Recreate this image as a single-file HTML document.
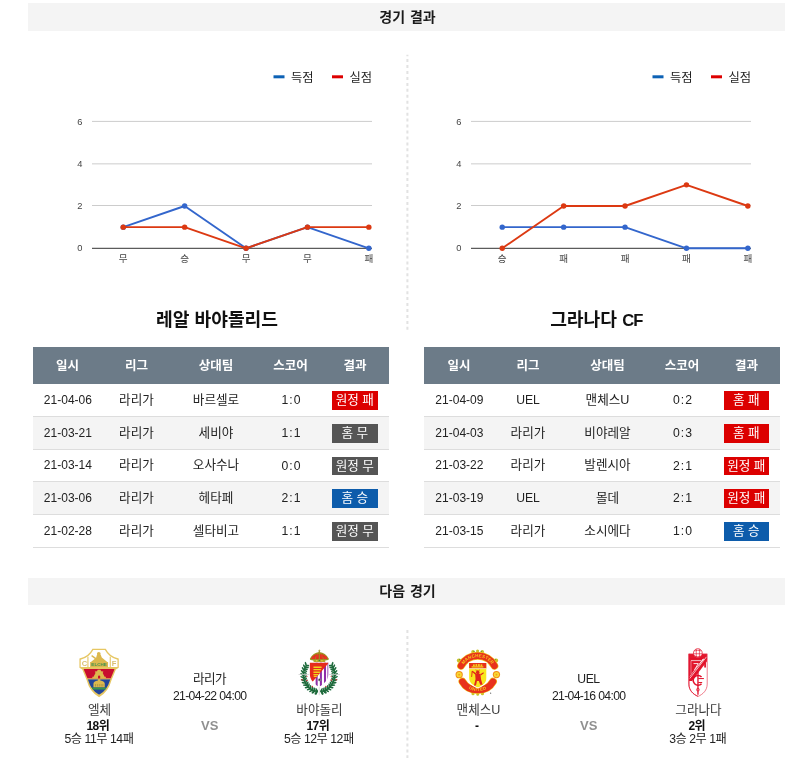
<!DOCTYPE html><html lang="ko"><head><meta charset="utf-8"><title>경기 결과</title><style>
*{margin:0;padding:0;box-sizing:border-box}
html,body{width:800px;height:763px;background:#fff;overflow:hidden}
body{position:relative;font-family:"Liberation Sans","Noto Sans CJK KR",sans-serif;color:#222;font-size:12.2px}
.k{font-size:12.6px}
.a{position:absolute}
.bar{position:absolute;left:28px;width:757px;background:#f4f4f4}
.c{position:absolute;white-space:nowrap;transform:translateX(-50%);line-height:16px;text-align:center}
.h{font-weight:bold;font-size:14px;color:#1a1a1a;word-spacing:1px}
.ttl{font-weight:bold;font-size:18.2px;color:#111;line-height:24px}
.th{position:absolute;background:#6c7b88;height:37px}
.thc{color:#fff;font-weight:bold;font-size:12.5px}
.row{position:absolute;border-bottom:1px solid #ddd}
.alt{background:#f4f4f4}
.bd{position:absolute;width:45.6px;height:18.7px;color:#fff;font-size:12.6px;line-height:19px;text-align:center;white-space:nowrap}
.red{background:#dc0000}.gry{background:#555}.blu{background:#0d5cab}
.sc{letter-spacing:1px}
.dash{position:absolute;width:1px;background:repeating-linear-gradient(to bottom,#ddd 0,#ddd 3px,transparent 3px,transparent 6px)}
.vs{font-weight:bold;color:#909090;font-size:13px}
.b{font-weight:bold}
.nm{color:#3a3a3a}
.rk{font-size:12px;letter-spacing:-0.6px;color:#111}
.rc{letter-spacing:-0.45px}
.dt{letter-spacing:-0.65px}
.uel{letter-spacing:-0.4px}
.lg{letter-spacing:-0.6px}
</style></head><body>
<div class="bar" style="top:3px;height:28px"></div>
<div class="c h" style="left:407.5px;top:9px">경기 결과</div>
<div class="bar" style="top:578px;height:27px"></div>
<div class="c h" style="left:407.5px;top:583px">다음 경기</div>
<svg class="a" style="left:400px;top:0" width="16" height="763" viewBox="400 0 16 763"><g stroke="#e2e2e2" stroke-width="2" fill="none"><line x1="407.4" y1="54.8" x2="407.4" y2="330.5" stroke-dasharray="3 2.95" stroke-dashoffset="1.65"/><line x1="407.4" y1="630" x2="407.4" y2="758" stroke-dasharray="3 2.97"/></g></svg>
<svg class="a" style="left:0px;top:55px" width="390" height="230" viewBox="0 55 390 230" font-family='Liberation Sans, Noto Sans CJK KR, sans-serif'><rect x="273.5" y="75.3" width="11" height="3" fill="#0d62b5"/><text x="291" y="81.5" font-size="12.3" fill="#222">득점</text><rect x="332" y="75.3" width="11" height="3" fill="#dd0000"/><text x="349.5" y="81.5" font-size="12.3" fill="#222">실점</text><rect x="92" y="120.9" width="280" height="1" fill="#ccc"/><rect x="92" y="163.35" width="280" height="1" fill="#ccc"/><rect x="92" y="205" width="280" height="1" fill="#ccc"/><text x="82.5" y="124.5" font-size="9.3" fill="#444" text-anchor="end">6</text><text x="82.5" y="166.8" font-size="9.3" fill="#444" text-anchor="end">4</text><text x="82.5" y="209.1" font-size="9.3" fill="#444" text-anchor="end">2</text><text x="82.5" y="251.4" font-size="9.3" fill="#444" text-anchor="end">0</text><rect x="92" y="247.8" width="280" height="1" fill="#333"/><polyline points="123.25,227.15 184.65,206 246.05,248.3 307.45,227.15 368.85,248.3" fill="none" stroke="#3366cc" stroke-width="1.9" stroke-linejoin="round"/><circle cx="123.25" cy="227.15" r="2.7" fill="#3366cc"/><circle cx="184.65" cy="206" r="2.7" fill="#3366cc"/><circle cx="246.05" cy="248.3" r="2.7" fill="#3366cc"/><circle cx="307.45" cy="227.15" r="2.7" fill="#3366cc"/><circle cx="368.85" cy="248.3" r="2.7" fill="#3366cc"/><polyline points="123.25,227.15 184.65,227.15 246.05,248.3 307.45,227.15 368.85,227.15" fill="none" stroke="#dc3912" stroke-width="1.9" stroke-linejoin="round"/><circle cx="123.25" cy="227.15" r="2.7" fill="#dc3912"/><circle cx="184.65" cy="227.15" r="2.7" fill="#dc3912"/><circle cx="246.05" cy="248.3" r="2.7" fill="#dc3912"/><circle cx="307.45" cy="227.15" r="2.7" fill="#dc3912"/><circle cx="368.85" cy="227.15" r="2.7" fill="#dc3912"/><text x="123.25" y="261.8" font-size="9.6" fill="#444" text-anchor="middle">무</text><text x="184.65" y="261.8" font-size="9.6" fill="#444" text-anchor="middle">승</text><text x="246.05" y="261.8" font-size="9.6" fill="#444" text-anchor="middle">무</text><text x="307.45" y="261.8" font-size="9.6" fill="#444" text-anchor="middle">무</text><text x="368.85" y="261.8" font-size="9.6" fill="#444" text-anchor="middle">패</text></svg>
<svg class="a" style="left:378.6px;top:55px" width="390" height="230" viewBox="0 55 390 230" font-family='Liberation Sans, Noto Sans CJK KR, sans-serif'><rect x="273.5" y="75.3" width="11" height="3" fill="#0d62b5"/><text x="291" y="81.5" font-size="12.3" fill="#222">득점</text><rect x="332" y="75.3" width="11" height="3" fill="#dd0000"/><text x="349.5" y="81.5" font-size="12.3" fill="#222">실점</text><rect x="92" y="120.9" width="280" height="1" fill="#ccc"/><rect x="92" y="163.35" width="280" height="1" fill="#ccc"/><rect x="92" y="205" width="280" height="1" fill="#ccc"/><text x="82.5" y="124.5" font-size="9.3" fill="#444" text-anchor="end">6</text><text x="82.5" y="166.8" font-size="9.3" fill="#444" text-anchor="end">4</text><text x="82.5" y="209.1" font-size="9.3" fill="#444" text-anchor="end">2</text><text x="82.5" y="251.4" font-size="9.3" fill="#444" text-anchor="end">0</text><rect x="92" y="247.8" width="280" height="1" fill="#333"/><polyline points="123.25,227.15 184.65,227.15 246.05,227.15 307.45,248.3 368.85,248.3" fill="none" stroke="#3366cc" stroke-width="1.9" stroke-linejoin="round"/><circle cx="123.25" cy="227.15" r="2.7" fill="#3366cc"/><circle cx="184.65" cy="227.15" r="2.7" fill="#3366cc"/><circle cx="246.05" cy="227.15" r="2.7" fill="#3366cc"/><circle cx="307.45" cy="248.3" r="2.7" fill="#3366cc"/><circle cx="368.85" cy="248.3" r="2.7" fill="#3366cc"/><polyline points="123.25,248.3 184.65,206 246.05,206 307.45,184.85 368.85,206" fill="none" stroke="#dc3912" stroke-width="1.9" stroke-linejoin="round"/><circle cx="123.25" cy="248.3" r="2.7" fill="#dc3912"/><circle cx="184.65" cy="206" r="2.7" fill="#dc3912"/><circle cx="246.05" cy="206" r="2.7" fill="#dc3912"/><circle cx="307.45" cy="184.85" r="2.7" fill="#dc3912"/><circle cx="368.85" cy="206" r="2.7" fill="#dc3912"/><text x="123.25" y="261.8" font-size="9.6" fill="#444" text-anchor="middle">승</text><text x="184.65" y="261.8" font-size="9.6" fill="#444" text-anchor="middle">패</text><text x="246.05" y="261.8" font-size="9.6" fill="#444" text-anchor="middle">패</text><text x="307.45" y="261.8" font-size="9.6" fill="#444" text-anchor="middle">패</text><text x="368.85" y="261.8" font-size="9.6" fill="#444" text-anchor="middle">패</text></svg>
<div class="c ttl" style="left:217px;top:307.8px">레알 바야돌리드</div>
<div class="c ttl" style="left:596.3px;top:307.8px">그라나다 <span style="font-size:16.6px;letter-spacing:-0.9px">CF</span></div>
<div class="th" style="left:32.5px;top:347px;width:356px"></div><div class="c thc" style="left:67.5px;top:357.5px">일시</div><div class="c thc" style="left:136.5px;top:357.5px">리그</div><div class="c thc" style="left:216px;top:357.5px">상대팀</div><div class="c thc" style="left:290.5px;top:357.5px">스코어</div><div class="c thc" style="left:355px;top:357.5px">결과</div><div class="row" style="left:32.5px;top:384px;width:356px;height:32.5px"></div><div class="c" style="left:67.9px;top:391.75px;font-size:12px">21-04-06</div><div class="c k" style="left:136.5px;top:391.75px">라리가</div><div class="c k" style="left:216px;top:391.75px">바르셀로</div><div class="c sc" style="left:291.5px;top:392.25px">1:0</div><div class="bd red" style="left:332px;top:391.3px">원정 패</div><div class="row alt" style="left:32.5px;top:416.5px;width:356px;height:33px"></div><div class="c" style="left:67.9px;top:424.5px;font-size:12px">21-03-21</div><div class="c k" style="left:136.5px;top:424.5px">라리가</div><div class="c k" style="left:216px;top:424.5px">세비야</div><div class="c sc" style="left:291.5px;top:425px">1:1</div><div class="bd gry" style="left:332px;top:424.05px">홈 무</div><div class="row" style="left:32.5px;top:449.5px;width:356px;height:32.5px"></div><div class="c" style="left:67.9px;top:457.25px;font-size:12px">21-03-14</div><div class="c k" style="left:136.5px;top:457.25px">라리가</div><div class="c k" style="left:216px;top:457.25px">오사수나</div><div class="c sc" style="left:291.5px;top:457.75px">0:0</div><div class="bd gry" style="left:332px;top:456.8px">원정 무</div><div class="row alt" style="left:32.5px;top:482px;width:356px;height:32.5px"></div><div class="c" style="left:67.9px;top:489.75px;font-size:12px">21-03-06</div><div class="c k" style="left:136.5px;top:489.75px">라리가</div><div class="c k" style="left:216px;top:489.75px">헤타페</div><div class="c sc" style="left:291.5px;top:490.25px">2:1</div><div class="bd blu" style="left:332px;top:489.3px">홈 승</div><div class="row" style="left:32.5px;top:514.5px;width:356px;height:33px"></div><div class="c" style="left:67.9px;top:522.5px;font-size:12px">21-02-28</div><div class="c k" style="left:136.5px;top:522.5px">라리가</div><div class="c k" style="left:216px;top:522.5px">셀타비고</div><div class="c sc" style="left:291.5px;top:523px">1:1</div><div class="bd gry" style="left:332px;top:522.05px">원정 무</div>
<div class="th" style="left:424px;top:347px;width:356px"></div><div class="c thc" style="left:459px;top:357.5px">일시</div><div class="c thc" style="left:528px;top:357.5px">리그</div><div class="c thc" style="left:607.5px;top:357.5px">상대팀</div><div class="c thc" style="left:682px;top:357.5px">스코어</div><div class="c thc" style="left:746.5px;top:357.5px">결과</div><div class="row" style="left:424px;top:384px;width:356px;height:32.5px"></div><div class="c" style="left:459.4px;top:391.75px;font-size:12px">21-04-09</div><div class="c" style="left:528px;top:391.75px">UEL</div><div class="c k" style="left:607.5px;top:391.75px">맨체스U</div><div class="c sc" style="left:683px;top:392.25px">0:2</div><div class="bd red" style="left:723.5px;top:391.3px">홈 패</div><div class="row alt" style="left:424px;top:416.5px;width:356px;height:33px"></div><div class="c" style="left:459.4px;top:424.5px;font-size:12px">21-04-03</div><div class="c k" style="left:528px;top:424.5px">라리가</div><div class="c k" style="left:607.5px;top:424.5px">비야레알</div><div class="c sc" style="left:683px;top:425px">0:3</div><div class="bd red" style="left:723.5px;top:424.05px">홈 패</div><div class="row" style="left:424px;top:449.5px;width:356px;height:32.5px"></div><div class="c" style="left:459.4px;top:457.25px;font-size:12px">21-03-22</div><div class="c k" style="left:528px;top:457.25px">라리가</div><div class="c k" style="left:607.5px;top:457.25px">발렌시아</div><div class="c sc" style="left:683px;top:457.75px">2:1</div><div class="bd red" style="left:723.5px;top:456.8px">원정 패</div><div class="row alt" style="left:424px;top:482px;width:356px;height:32.5px"></div><div class="c" style="left:459.4px;top:489.75px;font-size:12px">21-03-19</div><div class="c" style="left:528px;top:489.75px">UEL</div><div class="c k" style="left:607.5px;top:489.75px">몰데</div><div class="c sc" style="left:683px;top:490.25px">2:1</div><div class="bd red" style="left:723.5px;top:489.3px">원정 패</div><div class="row" style="left:424px;top:514.5px;width:356px;height:33px"></div><div class="c" style="left:459.4px;top:522.5px;font-size:12px">21-03-15</div><div class="c k" style="left:528px;top:522.5px">라리가</div><div class="c k" style="left:607.5px;top:522.5px">소시에다</div><div class="c sc" style="left:683px;top:523px">1:0</div><div class="bd blu" style="left:723.5px;top:522.05px">홈 승</div>
<div class="c k nm" style="left:99.5px;top:701.5px">엘체</div><div class="c b rk" style="left:97.8px;top:718px">18위</div><div class="c rc" style="left:99px;top:731px">5승 11무 14패</div><div class="c k lg" style="left:209.5px;top:671px">라리가</div><div class="c dt" style="left:209.7px;top:687.8px">21-04-22 04:00</div><div class="c vs" style="left:209.7px;top:717.6px">VS</div><div class="c k nm" style="left:319.5px;top:701.5px">바야돌리</div><div class="c b rk" style="left:317.8px;top:718px">17위</div><div class="c rc" style="left:318.8px;top:731px">5승 12무 12패</div>
<div class="c k nm" style="left:478.5px;top:701.5px">맨체스U</div><div class="c b rk" style="left:476.8px;top:718px">-</div><div class="c rc" style="left:478px;top:731px"></div><div class="c uel" style="left:588.5px;top:671px">UEL</div><div class="c dt" style="left:588.7px;top:687.8px">21-04-16 04:00</div><div class="c vs" style="left:588.7px;top:717.6px">VS</div><div class="c k nm" style="left:698.5px;top:701.5px">그라나다</div><div class="c b rk" style="left:696.8px;top:718px">2위</div><div class="c rc" style="left:697.8px;top:731px">3승 2무 1패</div>
<svg class="a" style="left:70px;top:640px" width="60" height="60" viewBox="0 0 763 763">
<defs><filter id="bl" x="-10%" y="-10%" width="120%" height="120%"><feGaussianBlur stdDeviation="5"/></filter>
<clipPath id="elc"><path d="M172 368 H568 L513 500 Q470 648 370 696 Q270 648 227 500Z"/></clipPath></defs>
<g filter="url(#bl)">
<path fill="#e6c662" d="M285 112 H455 Q506 214 620 236 V354 L584 374 L530 506 Q488 666 370 727 Q252 666 210 506 L156 374 L120 354 V236 Q234 214 285 112Z"/>
<path fill="#fff" d="M296 128 H444 Q496 226 604 250 V342 H136 V250 Q244 226 296 128Z"/>
<rect x="221" y="212" width="14" height="132" fill="#e6c662"/>
<rect x="505" y="212" width="14" height="132" fill="#e6c662"/>
<text x="184" y="332" font-family="Liberation Sans, sans-serif" font-weight="bold" font-size="96" fill="#d9bf72" text-anchor="middle">C</text>
<text x="561" y="332" font-family="Liberation Sans, sans-serif" font-weight="bold" font-size="96" fill="#d9bf72" text-anchor="middle">F</text>
<g fill="#dcb84e">
<circle cx="366" cy="178" r="24"/>
<path d="M342 190 H392 L404 222 L482 286 H258 L332 226Z"/>
<path d="M280 192 L338 232 L326 248 L270 206Z"/>
<rect x="256" y="280" width="228" height="64"/>
</g>
<text x="370" y="336" font-family="Liberation Sans, sans-serif" font-weight="bold" font-size="38" fill="#3f9150" text-anchor="middle" textLength="196" lengthAdjust="spacingAndGlyphs">ELCHE</text>
<g clip-path="url(#elc)">
<rect x="150" y="368" width="440" height="124" fill="#c8102e"/>
<rect x="150" y="489" width="440" height="13" fill="#e6c662"/>
<rect x="150" y="501" width="440" height="220" fill="#22449a"/>
<rect x="150" y="604" width="440" height="26" fill="#3a9448"/>
</g>
<g fill="#dcb84e">
<path d="M352 378 H388 L396 398 L424 402 L416 420 L440 468 H456 V489 H284 V468 H300 L324 420 L316 402 L344 398Z"/>
<path d="M298 556 Q298 522 370 516 Q442 522 442 556 V602 H298Z"/>
<rect x="354" y="498" width="32" height="24"/>
</g>
<circle cx="370" cy="464" r="14" fill="#c8102e"/>
<rect x="356" y="464" width="28" height="25" fill="#c8102e"/>
<g fill="#8a7a3a" opacity="0.55"><rect x="318" y="560" width="12" height="32"/><rect x="342" y="560" width="12" height="32"/><rect x="366" y="560" width="12" height="32"/><rect x="390" y="560" width="12" height="32"/><rect x="412" y="560" width="12" height="32"/></g>
</g>
</svg>
<svg class="a" style="left:290px;top:640px" width="60" height="60" viewBox="0 0 763 763">
<defs><filter id="bl2" x="-10%" y="-10%" width="120%" height="120%"><feGaussianBlur stdDeviation="5"/></filter>
<clipPath id="vsh"><path d="M250 285 H490 V420 C490 500 440 560 368 596 C300 560 250 500 250 420Z"/></clipPath></defs>
<g filter="url(#bl2)">
<path d="M532 326 A198 210 0 0 1 398 654 M342 654 A198 210 0 0 1 208 326" fill="none" stroke="#1e6a3b" stroke-width="20"/><g fill="#1e6a3b"><ellipse cx="401" cy="636" rx="11" ry="29" transform="rotate(384 401 636)"/><ellipse cx="407" cy="670" rx="11" ry="29" transform="rotate(316 407 670)"/><ellipse cx="429" cy="628" rx="11" ry="29" transform="rotate(375 429 628)"/><ellipse cx="440" cy="661" rx="11" ry="29" transform="rotate(307 440 661)"/><ellipse cx="455" cy="616" rx="11" ry="29" transform="rotate(366 455 616)"/><ellipse cx="471" cy="646" rx="11" ry="29" transform="rotate(298 471 646)"/><ellipse cx="480" cy="600" rx="11" ry="29" transform="rotate(357 480 600)"/><ellipse cx="500" cy="627" rx="11" ry="29" transform="rotate(289 500 627)"/><ellipse cx="501" cy="579" rx="11" ry="29" transform="rotate(348 501 579)"/><ellipse cx="525" cy="603" rx="11" ry="29" transform="rotate(280 525 603)"/><ellipse cx="519" cy="556" rx="11" ry="29" transform="rotate(339 519 556)"/><ellipse cx="547" cy="575" rx="11" ry="29" transform="rotate(271 547 575)"/><ellipse cx="533" cy="529" rx="11" ry="29" transform="rotate(330 533 529)"/><ellipse cx="564" cy="544" rx="11" ry="29" transform="rotate(262 564 544)"/><ellipse cx="544" cy="501" rx="11" ry="29" transform="rotate(320 544 501)"/><ellipse cx="576" cy="510" rx="11" ry="29" transform="rotate(252 576 510)"/><ellipse cx="549" cy="471" rx="11" ry="29" transform="rotate(311 549 471)"/><ellipse cx="583" cy="475" rx="11" ry="29" transform="rotate(243 583 475)"/><ellipse cx="551" cy="440" rx="11" ry="29" transform="rotate(302 551 440)"/><ellipse cx="585" cy="439" rx="11" ry="29" transform="rotate(234 585 439)"/><ellipse cx="548" cy="410" rx="11" ry="29" transform="rotate(293 548 410)"/><ellipse cx="581" cy="404" rx="11" ry="29" transform="rotate(225 581 404)"/><ellipse cx="540" cy="380" rx="11" ry="29" transform="rotate(284 540 380)"/><ellipse cx="572" cy="369" rx="11" ry="29" transform="rotate(216 572 369)"/><ellipse cx="528" cy="353" rx="11" ry="29" transform="rotate(275 528 353)"/><ellipse cx="558" cy="336" rx="11" ry="29" transform="rotate(207 558 336)"/><ellipse cx="513" cy="327" rx="11" ry="29" transform="rotate(266 513 327)"/><ellipse cx="539" cy="306" rx="11" ry="29" transform="rotate(198 539 306)"/><ellipse cx="339" cy="636" rx="11" ry="29" transform="rotate(156 339 636)"/><ellipse cx="333" cy="670" rx="11" ry="29" transform="rotate(224 333 670)"/><ellipse cx="311" cy="628" rx="11" ry="29" transform="rotate(165 311 628)"/><ellipse cx="300" cy="661" rx="11" ry="29" transform="rotate(233 300 661)"/><ellipse cx="285" cy="616" rx="11" ry="29" transform="rotate(174 285 616)"/><ellipse cx="269" cy="646" rx="11" ry="29" transform="rotate(242 269 646)"/><ellipse cx="260" cy="600" rx="11" ry="29" transform="rotate(183 260 600)"/><ellipse cx="240" cy="627" rx="11" ry="29" transform="rotate(251 240 627)"/><ellipse cx="239" cy="579" rx="11" ry="29" transform="rotate(192 239 579)"/><ellipse cx="215" cy="603" rx="11" ry="29" transform="rotate(260 215 603)"/><ellipse cx="221" cy="556" rx="11" ry="29" transform="rotate(201 221 556)"/><ellipse cx="193" cy="575" rx="11" ry="29" transform="rotate(269 193 575)"/><ellipse cx="207" cy="529" rx="11" ry="29" transform="rotate(210 207 529)"/><ellipse cx="176" cy="544" rx="11" ry="29" transform="rotate(278 176 544)"/><ellipse cx="196" cy="501" rx="11" ry="29" transform="rotate(220 196 501)"/><ellipse cx="164" cy="510" rx="11" ry="29" transform="rotate(288 164 510)"/><ellipse cx="191" cy="471" rx="11" ry="29" transform="rotate(229 191 471)"/><ellipse cx="157" cy="475" rx="11" ry="29" transform="rotate(297 157 475)"/><ellipse cx="189" cy="440" rx="11" ry="29" transform="rotate(238 189 440)"/><ellipse cx="155" cy="439" rx="11" ry="29" transform="rotate(306 155 439)"/><ellipse cx="192" cy="410" rx="11" ry="29" transform="rotate(247 192 410)"/><ellipse cx="159" cy="404" rx="11" ry="29" transform="rotate(315 159 404)"/><ellipse cx="200" cy="380" rx="11" ry="29" transform="rotate(256 200 380)"/><ellipse cx="168" cy="369" rx="11" ry="29" transform="rotate(324 168 369)"/><ellipse cx="212" cy="353" rx="11" ry="29" transform="rotate(265 212 353)"/><ellipse cx="182" cy="336" rx="11" ry="29" transform="rotate(333 182 336)"/><ellipse cx="227" cy="327" rx="11" ry="29" transform="rotate(274 227 327)"/><ellipse cx="201" cy="306" rx="11" ry="29" transform="rotate(342 201 306)"/></g>
<g fill="#1e6a3b"><ellipse cx="338" cy="668" rx="11" ry="34" transform="rotate(20 338 668)"/><ellipse cx="404" cy="668" rx="11" ry="34" transform="rotate(-20 404 668)"/><ellipse cx="300" cy="655" rx="11" ry="32" transform="rotate(48 300 655)"/><ellipse cx="442" cy="655" rx="11" ry="32" transform="rotate(-48 442 655)"/></g>
<rect x="108" y="432" width="526" height="10" fill="#cfcfcf"/>
<rect x="366" y="585" width="10" height="118" fill="#cfcfcf"/>
<g fill="#d4373a"><circle cx="153" cy="506" r="10"/><circle cx="214" cy="514" r="10"/><circle cx="526" cy="510" r="10"/><circle cx="590" cy="506" r="10"/><circle cx="284" cy="592" r="9"/><circle cx="456" cy="592" r="9"/><circle cx="216" cy="462" r="8"/><circle cx="524" cy="462" r="8"/></g>
<path d="M244 279 H496 V420 C496 505 444 566 368 604 C296 566 244 505 244 420Z" fill="#fff"/>
<g clip-path="url(#vsh)">
<rect x="240" y="280" width="260" height="330" fill="#fff"/>
<rect x="326" y="280" width="26" height="330" fill="#8e2fa8"/>
<rect x="380" y="280" width="26" height="330" fill="#8e2fa8"/>
<rect x="432" y="280" width="26" height="330" fill="#8e2fa8"/>
<rect x="476" y="280" width="26" height="330" fill="#8e2fa8"/>
<path d="M240 280 H500 L296 522 L240 560Z" fill="#e62a1f"/>
</g>
<g fill="#f2d21f"><path d="M298 336 H398 Q412 346 398 356 H298Z"/><path d="M298 368 H390 Q404 377 390 386 H298Z"/><path d="M298 400 H378 Q392 410 378 420 H298Z"/><path d="M298 431 H360 Q374 439 360 447 H298Z"/><path d="M302 456 H338 Q350 463 338 470 H302Z"/></g>
<circle cx="376" cy="506" r="20" fill="#8a8a8a"/><circle cx="376" cy="506" r="9" fill="#333"/>
<path d="M303 278 L298 252 Q246 256 254 234 Q292 166 373 154 Q454 166 492 234 Q500 256 448 252 L443 278Z" fill="#9c9222"/>
<path d="M304 246 Q262 246 272 228 Q304 182 373 172 Q442 182 474 228 Q484 246 442 246Z" fill="#e3301f"/>
<path d="M373 160 Q326 190 320 248 M373 160 Q420 190 426 248" stroke="#9c9222" stroke-width="10" fill="none"/>
<g fill="#e8352a"><circle cx="294" cy="226" r="17"/><circle cx="344" cy="204" r="17"/><circle cx="402" cy="204" r="17"/><circle cx="452" cy="226" r="17"/></g>
<rect x="365" y="150" width="15" height="100" fill="#9c9222"/>
<path d="M256 240 Q300 252 373 250 Q446 252 490 240 L486 254 Q440 262 373 260 Q306 262 260 254Z" fill="#9c9222"/>
<rect x="302" y="250" width="146" height="30" rx="4" fill="#b0a62c"/>
<circle cx="340" cy="264" r="9" fill="#e6d63c"/><circle cx="373" cy="261" r="10" fill="#2f8a3c"/><circle cx="406" cy="264" r="9" fill="#e6d63c"/>
<circle cx="373" cy="146" r="9" fill="#9c9222"/><rect x="368" y="122" width="10" height="26" fill="#a9a040"/><rect x="360" y="130" width="26" height="8" fill="#a9a040"/>
</g></svg>
<svg class="a" style="left:448px;top:640px" width="60" height="60" viewBox="0 0 763 763">
<defs><filter id="bl3" x="-10%" y="-10%" width="120%" height="120%"><feGaussianBlur stdDeviation="5"/></filter>
<path id="mu1" d="M170.3 364.4 A221 221 0 0 1 585.7 364.4"/>
<path id="mu2" d="M158.1 510.8 A234 207 0 0 0 597.9 510.8"/>
<clipPath id="mush"><path d="M268 292 H490 V480 C490 540 440 580 379 604 C318 580 268 540 268 480Z"/></clipPath>
</defs>
<g filter="url(#bl3)">
<!-- leaf ornaments -->
<g fill="#c9c22a"><circle cx="138" cy="262" r="26"/><circle cx="612" cy="262" r="26"/><circle cx="318" cy="150" r="22"/><circle cx="376" cy="140" r="20"/><circle cx="436" cy="150" r="22"/><circle cx="318" cy="684" r="20"/><circle cx="378" cy="692" r="18"/><circle cx="438" cy="684" r="20"/></g>
<g fill="#7a9a2a"><circle cx="150" cy="250" r="10"/><circle cx="600" cy="250" r="10"/><circle cx="330" cy="146" r="9"/><circle cx="424" cy="146" r="9"/></g>
<!-- top banner -->
<path d="M166.1 327.3 A240 240 0 0 1 589.9 327.3" fill="none" stroke="#f2c21c" stroke-width="100" stroke-linecap="round"/>
<path d="M166.1 327.3 A240 240 0 0 1 589.9 327.3" fill="none" stroke="#e8301a" stroke-width="84" stroke-linecap="round"/>
<!-- bottom banner -->
<path d="M183.8 529.0 A218 196 0 0 0 572.2 529.0" fill="none" stroke="#f2c21c" stroke-width="100" stroke-linecap="round"/>
<path d="M183.8 529.0 A218 196 0 0 0 572.2 529.0" fill="none" stroke="#e8301a" stroke-width="84" stroke-linecap="round"/>
<!-- white gap ring between -->
<!-- footballs -->
<circle cx="142" cy="441" r="46" fill="#f08a18"/><circle cx="142" cy="441" r="34" fill="#f8d830"/><circle cx="142" cy="441" r="12" fill="#f0a020"/>
<circle cx="616" cy="440" r="46" fill="#f08a18"/><circle cx="616" cy="440" r="34" fill="#f8d830"/><circle cx="616" cy="440" r="12" fill="#f0a020"/>
<!-- shield -->
<path d="M258 282 H500 V480 C500 548 446 592 379 616 C312 592 258 548 258 480Z" fill="#fff"/>
<g clip-path="url(#mush)">
<rect x="260" y="290" width="240" height="330" fill="#f8e71c"/>
<rect x="260" y="290" width="240" height="72" fill="#e8301a"/>
<rect x="260" y="362" width="240" height="8" fill="#fff"/>
</g>
<!-- ship -->
<g fill="#f4d21c"><rect x="300" y="334" width="150" height="16"/><rect x="318" y="310" width="22" height="24"/><rect x="350" y="306" width="22" height="28"/><rect x="382" y="306" width="22" height="28"/><rect x="414" y="310" width="22" height="24"/></g>
<!-- devil -->
<g fill="#e0281a">
<ellipse cx="378" cy="410" rx="22" ry="24"/>
<path d="M345 430 H412 L420 500 L440 570 H410 L392 520 H368 L356 580 H330 L350 500Z"/>
<path d="M345 440 L300 400 L312 390 L360 425Z"/>
<path d="M410 435 L450 410 L456 424 L418 452Z"/>
<path d="M300 400 L296 470 L306 470 L314 402Z"/>
<path d="M356 392 L350 372 L366 386Z"/><path d="M398 392 L408 372 L392 386Z"/>
</g>
<text font-family="Liberation Sans, sans-serif" font-weight="bold" font-size="58" fill="#f6c820" letter-spacing="1"><textPath href="#mu1" startOffset="50%" text-anchor="middle">MANCHESTER</textPath></text>
<text font-family="Liberation Sans, sans-serif" font-weight="bold" font-size="56" fill="#f6c820" letter-spacing="5"><textPath href="#mu2" startOffset="50%" text-anchor="middle">UNITED</textPath></text>
<circle cx="542" cy="676" r="8" fill="#666"/>
</g>
</svg>
<svg class="a" style="left:666px;top:640px" width="60" height="60" viewBox="0 0 763 763">
<defs><filter id="bl4" x="-10%" y="-10%" width="120%" height="120%"><feGaussianBlur stdDeviation="5"/></filter>
<clipPath id="grsh"><path d="M290 176 H524 V560 C524 640 470 690 407 718 C344 690 290 640 290 560Z"/></clipPath>
</defs>
<g filter="url(#bl4)">
<path d="M290 176 H524 V560 C524 640 470 690 407 718 C344 690 290 640 290 560Z" fill="#fff"/>
<g clip-path="url(#grsh)">
<!-- top band -->
<rect x="280" y="170" width="260" height="72" fill="#e2122c"/>
<!-- left red triangle under band -->
<path d="M280 240 H470 L300 480 H280Z" fill="#e2122c"/>
<!-- diagonal band: red with white inner line -->
<path d="M524 196 L545 196 L545 240 L330 520 L290 520 L290 470Z" fill="#e2122c"/>
<path d="M515 214 L300 492" stroke="#fff" stroke-width="9" fill="none"/>
<path d="M478 236 L300 466" stroke="#fff" stroke-width="7" fill="none"/>
<!-- white inset lines in the red triangle -->
<path d="M318 262 H446" stroke="#fff" stroke-width="9" fill="none"/>
<path d="M318 262 V430" stroke="#f6b8c0" stroke-width="8" fill="none"/>
<!-- the 7 -->
<path d="M350 300 H410 L362 380" stroke="#fff" stroke-width="11" fill="none"/>
<!-- right side red partial stripe -->
<rect x="486" y="290" width="22" height="60" fill="#e2122c"/>
</g>
<!-- outline -->
<path d="M290 176 H524 V560 C524 640 470 690 407 718 C344 690 290 640 290 560Z" fill="none" stroke="#e8455a" stroke-width="9"/>
<path d="M292 176 V560 C292 640 344 690 407 716" fill="none" stroke="#e2122c" stroke-width="10"/>
<!-- ball -->
<circle cx="405" cy="166" r="56" fill="#fff" stroke="#e2122c" stroke-width="9"/>
<path d="M360 140 Q405 120 450 140 M352 175 H458 M365 205 Q405 222 445 205 M385 115 V220 M425 115 V220" stroke="#e2122c" stroke-width="8" fill="none"/>
<!-- CF monogram -->
<path d="M452 470 A62 62 0 1 0 452 556" fill="none" stroke="#e2122c" stroke-width="20"/>
<rect x="398" y="396" width="17" height="300" fill="#e2122c"/>
<rect x="410" y="484" width="72" height="13" fill="#e2122c"/>
<rect x="410" y="534" width="50" height="13" fill="#e2122c"/>
<circle cx="406" cy="632" r="18" fill="none" stroke="#e2122c" stroke-width="9"/>
</g>
</svg>
</body></html>
